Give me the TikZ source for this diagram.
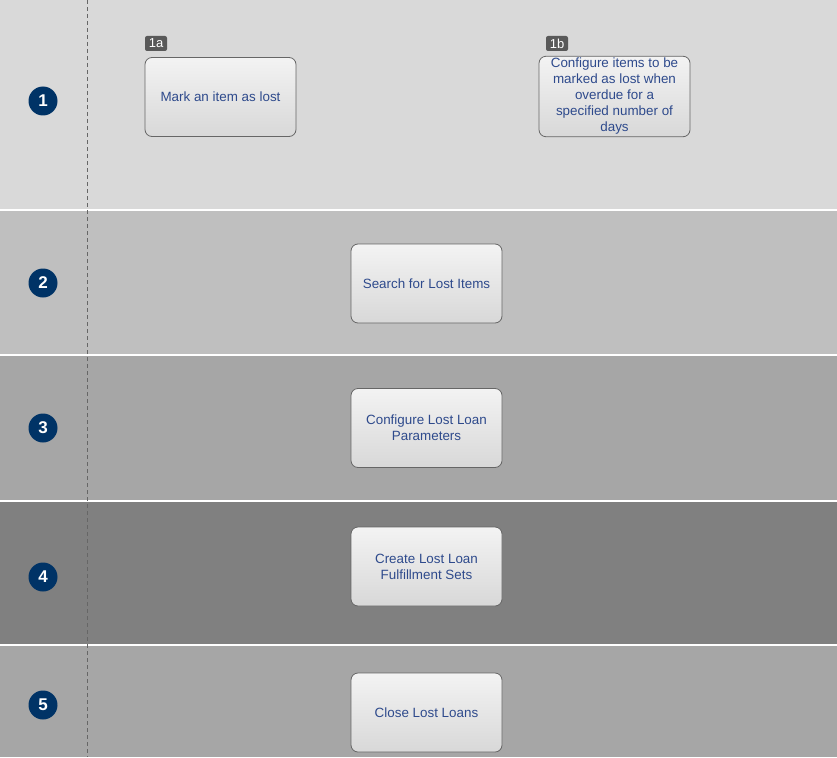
\documentclass[tikz,border=0pt]{standalone}
\usepackage{fontspec}
\setmainfont{Liberation Sans}
\definecolor{bandA}{HTML}{D9D9D9}
\definecolor{bandB}{HTML}{BFBFBF}
\definecolor{bandC}{HTML}{A6A6A6}
\definecolor{bandD}{HTML}{808080}
\definecolor{navy}{HTML}{003366}
\definecolor{txtblue}{HTML}{2E4A8C}
\definecolor{tagfill}{HTML}{595959}
\definecolor{boxtop}{HTML}{F3F3F3}
\definecolor{boxbot}{HTML}{D8D8D8}
\begin{document}
\begin{tikzpicture}[x=1pt,y=-1pt,
  stepbox/.style={draw=black!60, line width=0.8pt, rounded corners=7pt, top color=boxtop, bottom color=boxbot,
    minimum width=151pt, minimum height=79pt, align=center, inner sep=2pt,
    font=\fontsize{13.4}{16}\selectfont, text=txtblue},
  numdot/.style={circle, fill=navy, minimum size=29pt, inner sep=0pt, text=white, font=\fontsize{17}{17}\selectfont\bfseries},
  tag/.style={fill=tagfill, rounded corners=2pt, text=white, minimum width=22pt, minimum height=15pt, inner sep=1pt, font=\fontsize{13}{13}\selectfont},
  sep/.style={white, line width=2pt}]
\useasboundingbox (0,0) rectangle (837,757);
\fill[bandA] (0,0) rectangle (837,210);
\fill[bandB] (0,210) rectangle (837,355);
\fill[bandC] (0,355) rectangle (837,501);
\fill[bandD] (0,501) rectangle (837,645);
\fill[bandC] (0,645) rectangle (837,757);
\draw[sep] (0,210) -- (837,210);
\draw[sep] (0,355) -- (837,355);
\draw[sep] (0,501) -- (837,501);
\draw[sep] (0,645) -- (837,645);
\draw[black!60, dash pattern=on 4pt off 3pt, line width=0.8pt] (87.5,0) -- (87.5,757);
\node[numdot] (n1) at (43,101) {1};
\node[numdot] (n2) at (43,283) {2};
\node[numdot] (n3) at (43,428) {3};
\node[numdot] (n4) at (43,577) {4};
\node[numdot] (n5) at (43,705) {5};
\node[stepbox] (b1a) at (220.5,97) {Mark an item as lost};
\node[tag] (t1a) at (156,43.5) {1a};
\node[stepbox] (b1b) at (614.5,96.5) {Configure items to be\\marked as lost when\\overdue for a\\specified number of\\days};
\node[tag] (t1b) at (557,43.5) {1b};
\node[stepbox] (b2) at (426.5,283.5) {Search for Lost Items};
\node[stepbox] (b3) at (426.5,428) {Configure Lost Loan\\Parameters};
\node[stepbox] (b4) at (426.5,566.5) {Create Lost Loan\\Fulfillment Sets};
\node[stepbox] (b5) at (426.5,712.5) {Close Lost Loans};
\end{tikzpicture}
\end{document}
